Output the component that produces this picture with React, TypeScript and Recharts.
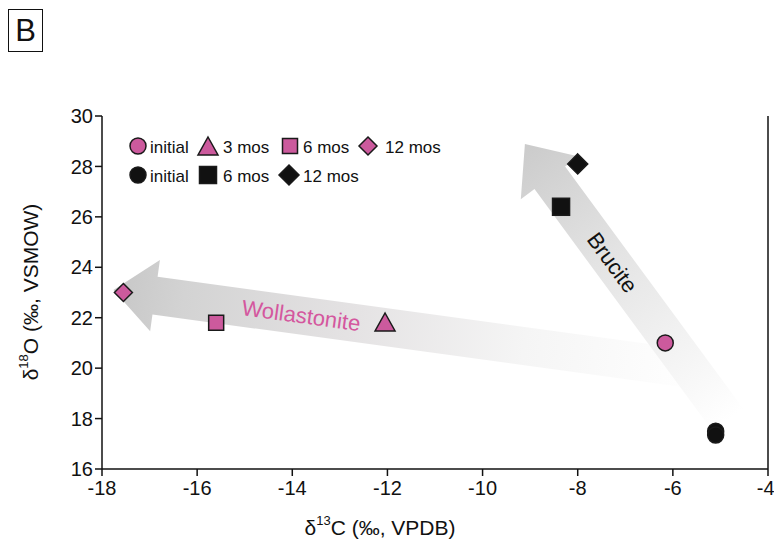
import React from "react";
import {
  ScatterChart,
  Scatter,
  XAxis,
  YAxis,
  ReferenceLine,
  Customized,
} from "recharts";

// values (d13C, d18O)
const wollInitial = [{ x: -6.16, y: 21.0 }];
const woll3mos = [{ x: -12.05, y: 21.83 }];
const woll6mos = [{ x: -15.6, y: 21.8 }];
const woll12mos = [{ x: -17.55, y: 23.0 }];

const bruInitial = [
  { x: -5.1, y: 17.5 },
  { x: -5.1, y: 17.35 },
];
const bru6mos = [{ x: -8.35, y: 26.4 }];
const bru12mos = [{ x: -8.0, y: 28.1 }];

const xTicks = [-18, -16, -14, -12, -10, -8, -6, -4];
const yTicks = [16, 18, 20, 22, 24, 26, 28, 30];

// trend arrows: tail -> tip
const wollArrow = [
  { x: -5.43, y: 19.92 },
  { x: -17.76, y: 23.1 },
];
const bruArrow = [
  { x: -4.84, y: 17.94 },
  { x: -9.11, y: 28.89 },
];

const PINK = "#cc5a9d";
const FONT = "'Liberation Sans', Arial, Helvetica, sans-serif";

type Kind = "circle" | "triangle" | "square" | "diamond";

function Marker({ cx, cy, kind, fill }: { cx: number; cy: number; kind: Kind; fill: string }) {
  const stroke = "#1a1a1a";
  if (kind === "circle") {
    return <circle cx={cx} cy={cy} r={8} fill={fill} stroke={stroke} strokeWidth={1.5} />;
  }
  if (kind === "square") {
    const s = fill === PINK ? 7.5 : 8.5;
    return <rect x={cx - s} y={cy - s} width={s * 2} height={s * 2} fill={fill} stroke={stroke} strokeWidth={1.5} />;
  }
  if (kind === "triangle") {
    return (
      <polygon
        points={`${cx},${cy - 9} ${cx + 10},${cy + 9} ${cx - 10},${cy + 9}`}
        fill={fill}
        stroke={stroke}
        strokeWidth={1.5}
      />
    );
  }
  const d = fill === PINK ? 9 : 10;
  return (
    <polygon
      points={`${cx},${cy - d} ${cx + d},${cy} ${cx},${cy + d} ${cx - d},${cy}`}
      fill={fill}
      stroke={stroke}
      strokeWidth={1.5}
    />
  );
}

const markerShape = (kind: Kind, fill: string) => (props: any) =>
  <Marker cx={props.cx} cy={props.cy} kind={kind} fill={fill} />;

function arrowShape(
  id: string,
  label: string,
  labelColor: string,
  t: number,
  fontSize: number,
  stops: [number, string][]
) {
  return (props: any) => {
    const { x1, y1, x2, y2 } = props;
    const dx = x2 - x1;
    const dy = y2 - y1;
    const len = Math.sqrt(dx * dx + dy * dy);
    const ux = dx / len;
    const uy = dy / len;
    const nx = -uy;
    const ny = ux;
    const body = 19;
    const head = 36;
    const headLen = 42;
    const bx = x2 - ux * headLen;
    const by = y2 - uy * headLen;
    const pts = [
      [x1 + nx * body, y1 + ny * body],
      [bx + nx * body, by + ny * body],
      [bx + nx * head, by + ny * head],
      [x2, y2],
      [bx - nx * head, by - ny * head],
      [bx - nx * body, by - ny * body],
      [x1 - nx * body, y1 - ny * body],
    ]
      .map((p) => p.join(","))
      .join(" ");
    const lx = x1 + dx * t;
    const ly = y1 + dy * t;
    const ang = (Math.atan2(dy, dx) * 180) / Math.PI + 180;
    return (
      <g>
        <defs>
          <linearGradient id={id} gradientUnits="userSpaceOnUse" x1={x1} y1={y1} x2={x2} y2={y2}>
            {stops.map(([o, c]) => (
              <stop key={o} offset={o} stopColor={c} />
            ))}
          </linearGradient>
        </defs>
        <polygon points={pts} fill={`url(#${id})`} />
        <text
          x={lx}
          y={ly}
          transform={`rotate(${ang} ${lx} ${ly})`}
          textAnchor="middle"
          dominantBaseline="central"
          fontFamily={FONT}
          fontSize={fontSize}
          fill={labelColor}
        >
          {label}
        </text>
      </g>
    );
  };
}

const legendRow1: { kind: Kind; label: string; x: number; tx: number }[] = [
  { kind: "circle", label: "initial", x: 138, tx: 150 },
  { kind: "triangle", label: "3 mos", x: 208, tx: 223 },
  { kind: "square", label: "6 mos", x: 290, tx: 303 },
  { kind: "diamond", label: "12 mos", x: 368, tx: 385 },
];
const legendRow2: { kind: Kind; label: string; x: number; tx: number }[] = [
  { kind: "circle", label: "initial", x: 138, tx: 150 },
  { kind: "square", label: "6 mos", x: 208, tx: 223 },
  { kind: "diamond", label: "12 mos", x: 289, tx: 303 },
];

function Overlay() {
  return (
    <g fontFamily={FONT}>
      {legendRow1.map((it) => (
        <g key={"a" + it.label}>
          <Marker cx={it.x} cy={146} kind={it.kind} fill={PINK} />
          <text x={it.tx} y={147} dominantBaseline="central" fontSize={17} fill="#111">
            {it.label}
          </text>
        </g>
      ))}
      {legendRow2.map((it) => (
        <g key={"b" + it.label}>
          <Marker cx={it.x} cy={175} kind={it.kind} fill="#111" />
          <text x={it.tx} y={176} dominantBaseline="central" fontSize={17} fill="#111">
            {it.label}
          </text>
        </g>
      ))}
      <text x={380} y={527} textAnchor="middle" dominantBaseline="central" fontSize={21} fill="#111">
        δ<tspan fontSize={13} dy={-7}>13</tspan>
        <tspan dy={7}>C (‰, VPDB)</tspan>
      </text>
      <text
        x={30}
        y={292}
        transform="rotate(-90 30 292)"
        textAnchor="middle"
        dominantBaseline="central"
        fontSize={21}
        fill="#111"
      >
        δ<tspan fontSize={13} dy={-7}>18</tspan>
        <tspan dy={7}>O (‰, VSMOW)</tspan>
      </text>
    </g>
  );
}

export default function App() {
  const tick = { fill: "#111", fontSize: 20, fontFamily: FONT };
  return (
    <div style={{ position: "absolute", left: 0, top: 0, width: 774, height: 547, background: "#fff" }}>
      <div
        style={{
          position: "absolute",
          left: 8,
          top: 9,
          width: 33,
          height: 41,
          border: "1.5px solid #111",
          fontFamily: FONT,
          fontSize: 31,
          lineHeight: "41px",
          textAlign: "center",
          color: "#111",
        }}
      >
        B
      </div>
      <ScatterChart width={774} height={547} margin={{ top: 116, right: 6, bottom: 48, left: 42 }}>
        <XAxis
          type="number"
          dataKey="x"
          domain={[-18, -4]}
          ticks={xTicks}
          tick={tick}
          tickSize={7}
          tickMargin={5}
          height={30}
          axisLine={{ stroke: "#111", strokeWidth: 1.5 }}
          tickLine={{ stroke: "#111", strokeWidth: 1.5 }}
          allowDataOverflow
        />
        <YAxis
          type="number"
          dataKey="y"
          domain={[16, 30]}
          ticks={yTicks}
          tick={tick}
          tickSize={7}
          tickMargin={2}
          width={60}
          axisLine={{ stroke: "#111", strokeWidth: 1.5 }}
          tickLine={{ stroke: "#111", strokeWidth: 1.5 }}
          allowDataOverflow
        />
        <ReferenceLine x={-4} stroke="#111" strokeWidth={1.5} ifOverflow="visible" />
        <ReferenceLine
          segment={wollArrow}
          ifOverflow="visible"
          shape={arrowShape("gradW", "Wollastonite", "#d4579e", 0.68, 22, [
            [0, "#ffffff"],
            [0.3, "#f5f5f5"],
            [0.6, "#e4e2e3"],
            [0.88, "#d3d3d3"],
            [1, "#c7c7c7"],
          ])}
        />
        <ReferenceLine
          segment={bruArrow}
          ifOverflow="visible"
          shape={arrowShape("gradB", "Brucite", "#111", 0.57, 22, [
            [0, "#ffffff"],
            [0.3, "#f1f1f1"],
            [0.6, "#e3e3e3"],
            [1, "#cbcbcb"],
          ])}
        />
        <Customized component={Overlay} />
        <Scatter data={wollInitial} isAnimationActive={false} shape={markerShape("circle", PINK)} />
        <Scatter data={woll3mos} isAnimationActive={false} shape={markerShape("triangle", PINK)} />
        <Scatter data={woll6mos} isAnimationActive={false} shape={markerShape("square", PINK)} />
        <Scatter data={woll12mos} isAnimationActive={false} shape={markerShape("diamond", PINK)} />
        <Scatter data={bruInitial} isAnimationActive={false} shape={markerShape("circle", "#111")} />
        <Scatter data={bru6mos} isAnimationActive={false} shape={markerShape("square", "#111")} />
        <Scatter data={bru12mos} isAnimationActive={false} shape={markerShape("diamond", "#111")} />
      </ScatterChart>
    </div>
  );
}
